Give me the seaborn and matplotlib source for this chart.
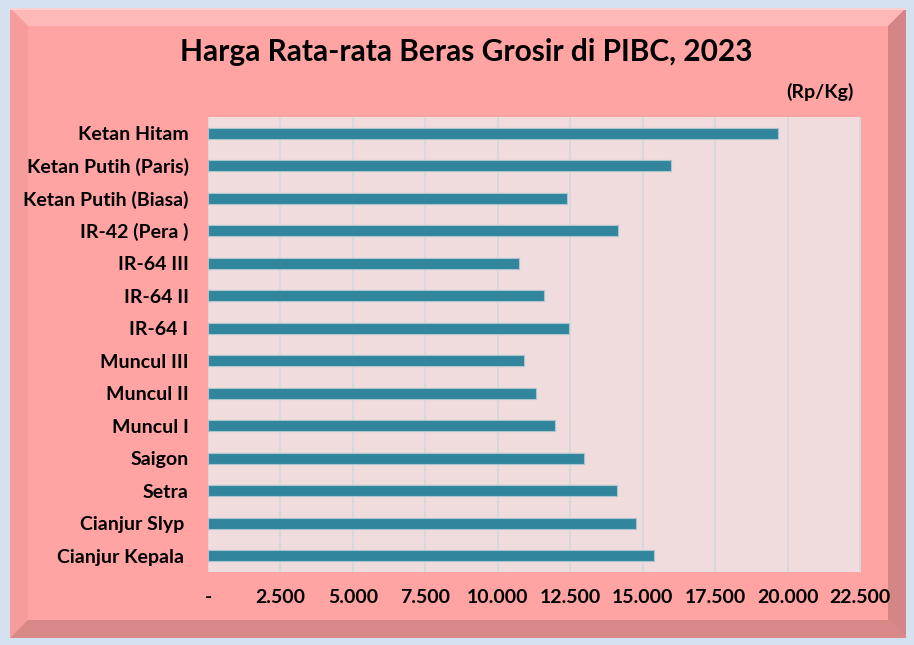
import matplotlib
matplotlib.use('Agg')
import matplotlib.pyplot as plt
from matplotlib.patches import Polygon, Rectangle
from matplotlib.ticker import FuncFormatter, MultipleLocator
import pandas as pd
import seaborn as sns

jenis_beras = ['Ketan Hitam', 'Ketan Putih (Paris)', 'Ketan Putih (Biasa)', 'IR-42 (Pera )',
               'IR-64 III', 'IR-64 II', 'IR-64 I', 'Muncul III', 'Muncul II', 'Muncul I',
               'Saigon', 'Setra', 'Cianjur Slyp ', 'Cianjur Kepala ']
harga_rata = [19680, 15990, 12400, 14150, 10720, 11580, 12450,
              10890, 11320, 11990, 12990, 14130, 14780, 15400]

df = pd.DataFrame({'jenis': jenis_beras, 'harga': harga_rata})

sns.set_style('white')
plt.rcParams['font.family'] = ['Lato', 'DejaVu Sans']
plt.rcParams['text.color'] = 'black'

W, H = 914, 645
fig = plt.figure(figsize=(W / 100, H / 100), dpi=100)
fig.patch.set_facecolor('#D5E1EE')


def px(x, y):
    return (x / W, 1 - y / H)


# panel with bevelled edges
x0, y0, x1, y1, b = 10, 8, 906, 638, 18
fig.patches.append(Rectangle(px(x0, y1), (x1 - x0) / W, (y1 - y0) / H,
                             transform=fig.transFigure, facecolor='#FFA3A3', edgecolor='none', zorder=-2))
bevels = [
    ([(x0, y0), (x1, y0), (x1 - b, y0 + b), (x0 + b, y0 + b)], '#FFB8B8'),
    ([(x0, y0), (x0 + b, y0 + b), (x0 + b, y1 - b), (x0, y1)], '#F79C9C'),
    ([(x0, y1), (x0 + b, y1 - b), (x1 - b, y1 - b), (x1, y1)], '#D98888'),
    ([(x1, y0), (x1, y1), (x1 - b, y1 - b), (x1 - b, y0 + b)], '#D48585'),
]
for pts, col in bevels:
    fig.patches.append(Polygon([px(*p) for p in pts], closed=True, transform=fig.transFigure,
                               facecolor=col, edgecolor='none', zorder=-1))
fig.patches.append(Rectangle(px(x0, y0 + 2), (x1 - x0) / W, 2 / H, transform=fig.transFigure,
                             facecolor='#FFD0D0', edgecolor='none', zorder=-1))

ax = fig.add_axes([208 / W, 1 - 572 / H, (860 - 208) / W, (572 - 117) / H])
ax.set_facecolor('#F0DCDC')

sns.barplot(data=df, x='harga', y='jenis', orient='h', color='#31859C',
            width=0.35, edgecolor='#A9C6D0', linewidth=0.8, saturation=1, ax=ax, zorder=3)

ax.set_xlim(0, 22500)
ax.xaxis.set_major_locator(MultipleLocator(2500))
ax.xaxis.set_major_formatter(FuncFormatter(lambda v, p: '-' if v == 0 else f'{v:,.0f}'.replace(',', '.')))
ax.grid(True, axis='x', color='#D3D9DC', linewidth=1.2, zorder=0)
ax.set_axisbelow(True)
for s in ax.spines.values():
    s.set_visible(False)
ax.spines['right'].set_visible(True)
ax.spines['right'].set_color('#D3D9DC')

ax.tick_params(axis='both', length=0, labelsize=14, labelcolor='black')
ax.tick_params(axis='y', pad=14)
ax.tick_params(axis='x', pad=12)
for lbl in ax.get_xticklabels() + ax.get_yticklabels():
    lbl.set_fontweight('bold')
ax.set_xlabel('')
ax.set_ylabel('')

fig.text(466 / W, 1 - 52 / H, 'Harga Rata-rata Beras Grosir di PIBC, 2023',
         ha='center', va='center', fontsize=21.5, fontweight='bold')
fig.text(820 / W, 1 - 92 / H, '(Rp/Kg)', ha='center', va='center', fontsize=14, fontweight='bold')

fig.savefig('out.png', dpi=100, facecolor=fig.get_facecolor())
